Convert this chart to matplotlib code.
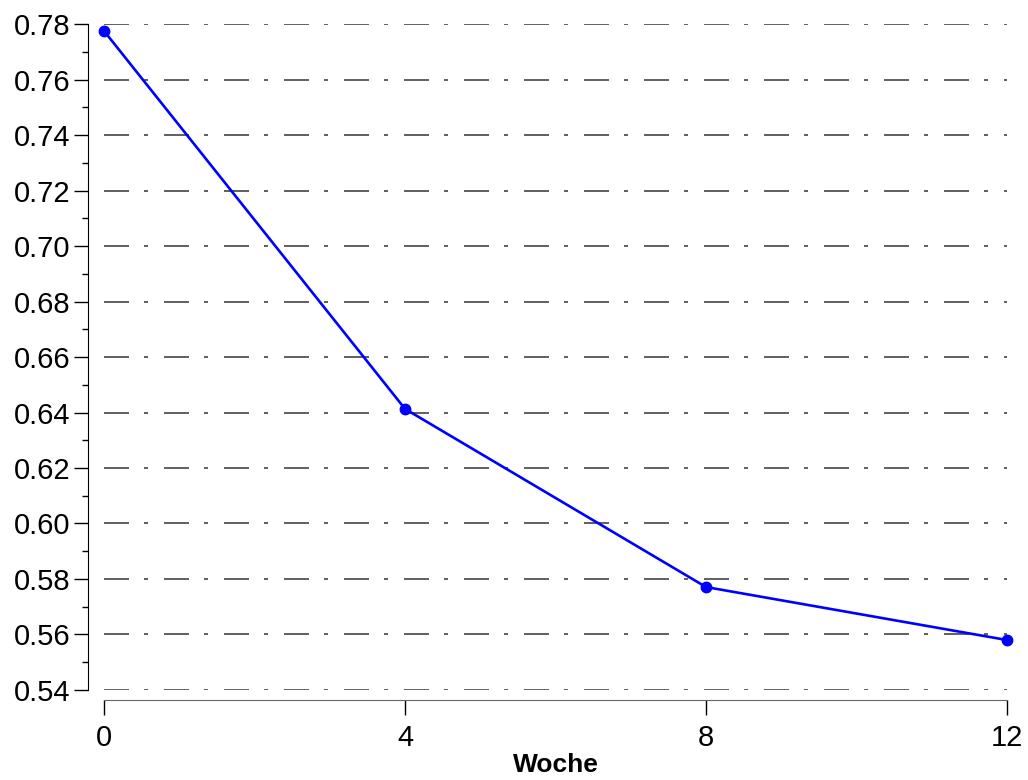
import numpy as np
import matplotlib.pyplot as plt
from matplotlib.ticker import MultipleLocator

plt.rcParams['font.family'] = ['Liberation Sans', 'DejaVu Sans']

# Weekly measurements
woche = [0, 4, 8, 12]
werte = [0.7775, 0.6413, 0.5771, 0.5580]
x_ticks = [0, 4, 8, 12]

fig = plt.figure(figsize=(10.28, 7.8), dpi=100)
ax = fig.add_axes([0.1012, 0.1154, 0.8784, 0.8538])

ax.set_xlim(0, 12)
ax.set_ylim(0.54, 0.78)

# dash-dot horizontal grid lines
grid_lw = 1.2
for y in np.arange(0.54, 0.7801, 0.02):
    ax.axhline(y, color='#444444', lw=grid_lw, zorder=1,
               linestyle=(0, (18 / grid_lw, 10.8 / grid_lw, 2.9 / grid_lw, 11.5 / grid_lw)))

ax.plot(woche, werte, color='#0000ff', lw=1.9, marker='o', markersize=7.5,
        zorder=3, clip_on=False)

# detached axes
for s in ['top', 'right']:
    ax.spines[s].set_visible(False)
ax.spines['left'].set_position(('outward', 11.5))
ax.spines['bottom'].set_position(('outward', 7.2))
ax.spines['left'].set_bounds(0.54, 0.78)
ax.spines['bottom'].set_bounds(0, 12)
ax.spines['bottom'].set_color('#666666')

ax.set_xticks(x_ticks)
ax.yaxis.set_major_locator(MultipleLocator(0.02))
ax.yaxis.set_minor_locator(MultipleLocator(0.01))
ax.yaxis.set_major_formatter(plt.FormatStrFormatter('%.2f'))
ax.tick_params(axis='y', which='major', length=10, width=1, pad=3, labelsize=21)
ax.tick_params(axis='y', which='minor', length=4.5, width=1)
ax.tick_params(axis='x', which='major', length=11, width=1, pad=6, labelsize=21)

ax.set_xlabel('Woche', fontsize=19, fontweight='bold', labelpad=1)

fig.savefig('out.png', dpi=100)
